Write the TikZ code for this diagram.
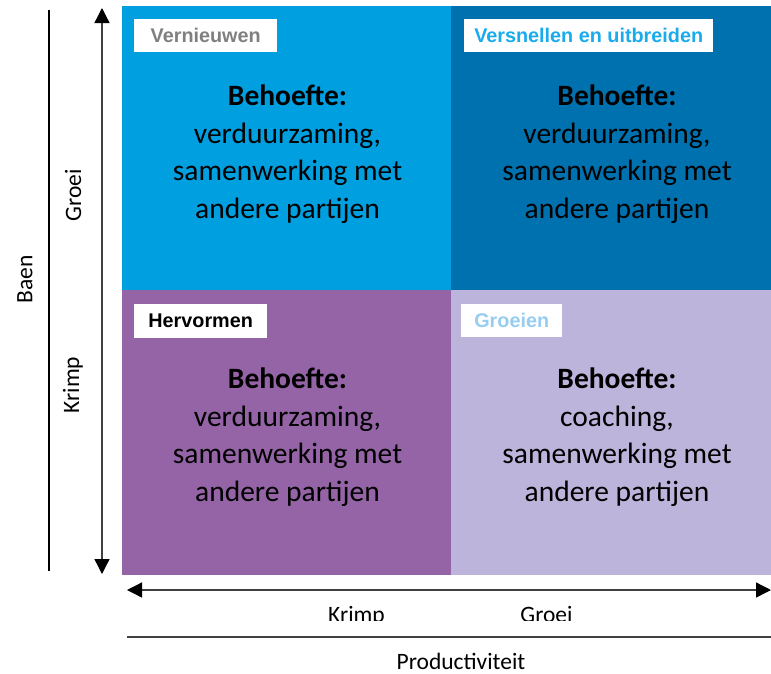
\documentclass[tikz,border=0pt]{standalone}
\usepackage{fontspec}
\setmainfont{Carlito}
\newfontfamily\labfont{Liberation Sans}
\usetikzlibrary{arrows.meta}
\definecolor{qTL}{HTML}{009FE0}
\definecolor{qTR}{HTML}{0071AF}
\definecolor{qBL}{HTML}{9564A6}
\definecolor{qBR}{HTML}{BDB4DB}
\definecolor{axisgray}{HTML}{404040}
\tikzset{
  quad/.style={draw=none, inner sep=0pt, outer sep=0pt, anchor=north west},
  qtext/.style={align=center, inner sep=0pt, font=\fontsize{29.5}{37.5}\selectfont},
  tag/.style={fill=white, inner sep=0pt, anchor=north west, font=\labfont\bfseries\fontsize{19.8}{22}\selectfont},
  axlab/.style={inner sep=0pt, font=\fontsize{23.5}{28}\selectfont},
  axarrow/.style={draw=axisgray, line width=1.3pt, {Triangle[width=15pt,length=15pt,color=black]}-{Triangle[width=15pt,length=15pt,color=black]}},
  axline/.style={draw=axisgray, line width=1.3pt}
}
\begin{document}
\begin{tikzpicture}[x=1pt,y=-1pt]
\useasboundingbox (0,0) rectangle (771,673);
% quadrants
\node[quad, fill=qTL, minimum width=329pt, minimum height=284pt] (tl) at (122,6) {};
\node[quad, fill=qTR, minimum width=320pt, minimum height=284pt] (tr) at (451,6) {};
\node[quad, fill=qBL, minimum width=329pt, minimum height=285pt] (bl) at (122,290) {};
\node[quad, fill=qBR, minimum width=320pt, minimum height=285pt] (br) at (451,290) {};
% tags
\node[tag, minimum width=143pt, minimum height=33pt, text=gray] (t1) at (134,19) {Vernieuwen};
\node[tag, minimum width=249pt, minimum height=33pt, text={rgb,255:red,26;green,171;blue,236}] (t2) at (464,19) {Versnellen en uitbreiden};
\node[tag, minimum width=133pt, minimum height=34pt, text=black] (t3) at (134,304) {Hervormen};
\node[tag, minimum width=101pt, minimum height=33pt, text={rgb,255:red,150;green,205;blue,240}] (t4) at (461,304) {Groeien};
% quadrant texts
\node[qtext] (x1) at (287.5,154) {\textbf{Behoefte:}\\verduurzaming,\\samenwerking met\\andere partijen};
\node[qtext] (x2) at (617,154) {\textbf{Behoefte:}\\verduurzaming,\\samenwerking met\\andere partijen};
\node[qtext] (x3) at (287.5,437) {\textbf{Behoefte:}\\verduurzaming,\\samenwerking met\\andere partijen};
\node[qtext] (x4) at (617,437) {\textbf{Behoefte:}\\coaching,\\samenwerking met\\andere partijen};
% vertical axis
\coordinate (vtop) at (102,8);
\coordinate (vbot) at (102,574);
\draw[axarrow] (vbot) -- (vtop);
\coordinate (ltop) at (49,10);
\coordinate (lbot) at (49,571);
\draw[line width=1.1pt] (ltop) -- (lbot);
\node[axlab, rotate=90] (baen) at (25,279) {Baen};
\node[axlab, rotate=90] (vg) at (73,195) {Groei};
\node[axlab, rotate=90] (vk) at (73,385) {Krimp};
% horizontal axis
\coordinate (hl) at (127,590);
\coordinate (hr) at (771,590);
\draw[axarrow] (hl) -- (hr);
\coordinate (bl2) at (127,637);
\coordinate (br2) at (771,637);
\draw[axline] (bl2) -- (br2);
\begin{scope}
\clip (300,590) rectangle (600,620);
\node[axlab, anchor=base] (hk) at (356.5,622) {Krimp};
\node[axlab, anchor=base] (hg) at (546.5,622) {Groei};
\end{scope}
\node[axlab, anchor=base] (prod) at (461,669) {Productiviteit};
\end{tikzpicture}
\end{document}
